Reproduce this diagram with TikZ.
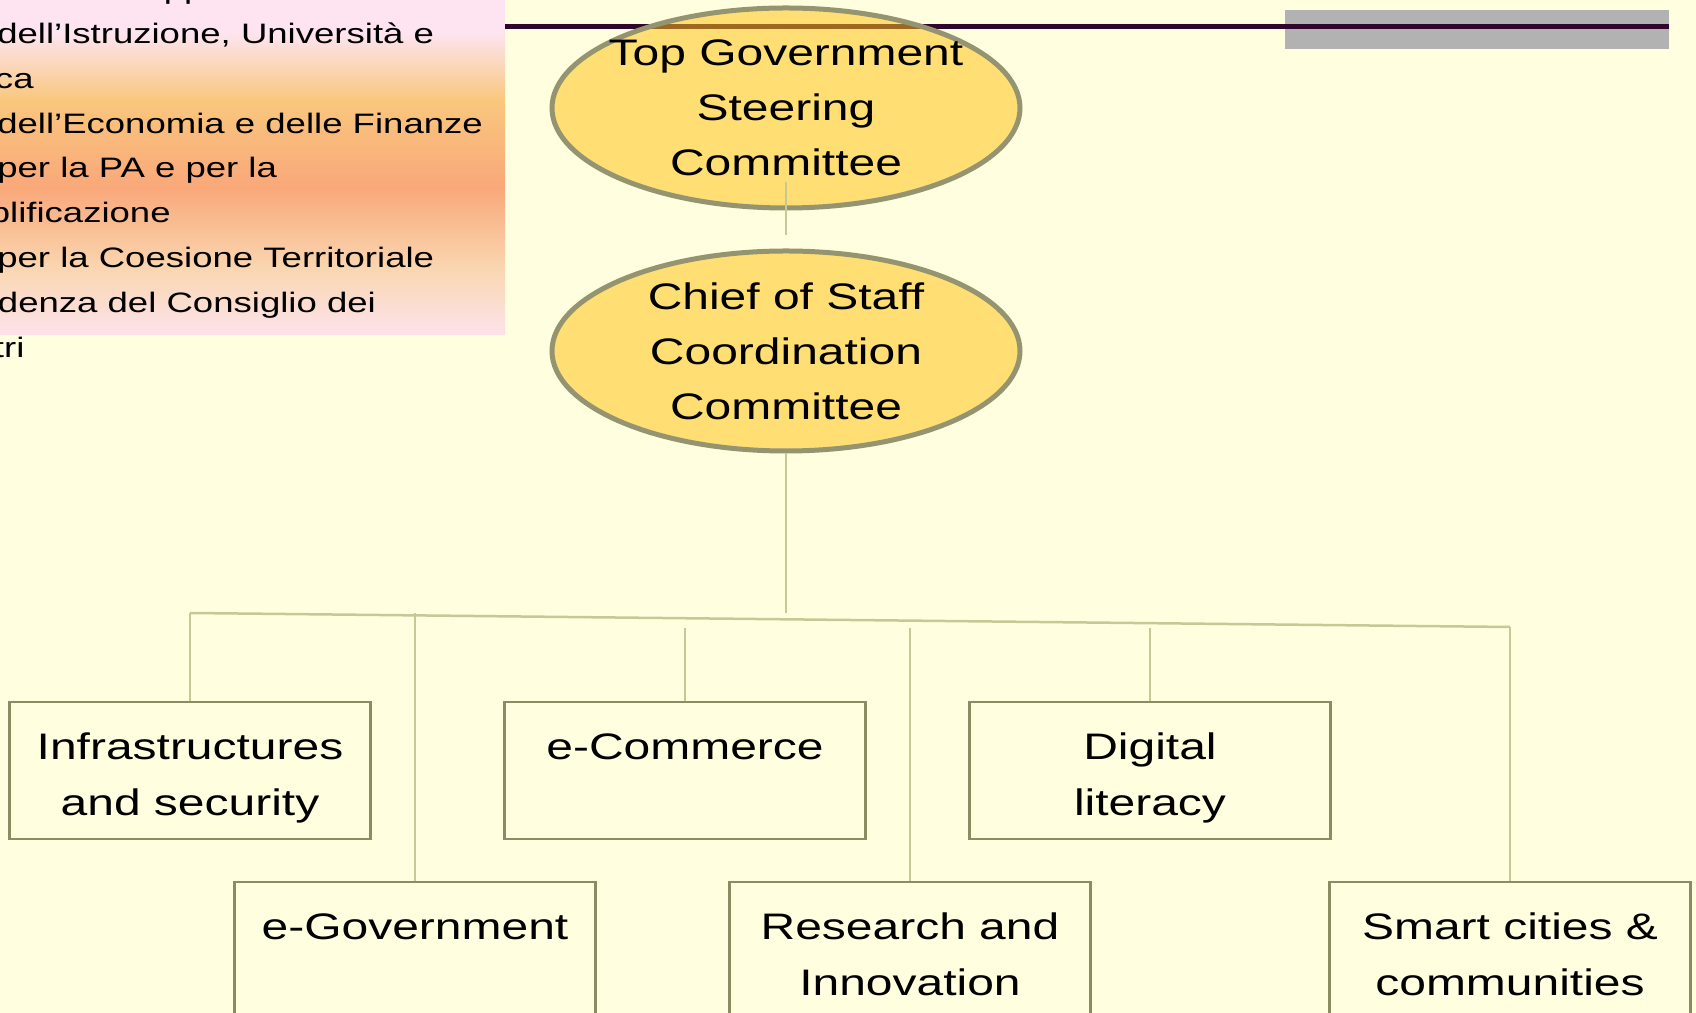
\documentclass[tikz,border=0pt]{standalone}
\usepackage{fontspec}
\setmainfont{Liberation Sans}[FakeStretch=1.30]
\usepackage{tikz}
\usetikzlibrary{shapes.geometric}

\definecolor{slideYellow}{RGB}{255,255,224}
\definecolor{titleRule}{RGB}{48,6,44}
\definecolor{barGray}{RGB}{178,178,178}
\definecolor{ellipseFill}{RGB}{255,193,20}
\definecolor{ellipseRim}{RGB}{148,148,112}
\definecolor{unitRim}{RGB}{140,140,100}
\definecolor{linkOlive}{RGB}{200,200,150}
\definecolor{pinkTop}{RGB}{253,228,240}
\definecolor{peachBand}{RGB}{249,199,125}
\definecolor{salmonBand}{RGB}{249,168,122}
\definecolor{lightPeach}{RGB}{250,214,176}
\definecolor{pinkBot}{RGB}{252,226,230}

\pgfdeclareverticalshading{ministryband}{100bp}{color(0bp)=(pinkBot); color(25bp)=(pinkBot); color(26bp)=(pinkBot); color(35bp)=(lightPeach); color(47bp)=(salmonBand); color(60bp)=(peachBand); color(70bp)=(pinkTop); color(75bp)=(pinkTop); color(100bp)=(pinkTop)}

% text at the top of a unit box
\newcommand{\unittext}[1]{\parbox[c][1.37cm][t]{3.61cm}{\centering\rule{0pt}{0.58cm}#1}}

\begin{document}
\begin{tikzpicture}[
        committee/.style={ellipse, draw=ellipseRim, line width=0.05cm, fill=ellipseFill, fill opacity=0.53, text opacity=1,
            minimum width=4.68cm, minimum height=2cm, inner xsep=-0.6cm, inner ysep=0pt, align=center,
            font=\fontsize{10.5}{15.7}\selectfont},
        unit/.style={draw=unitRim, line width=0.025cm, inner sep=0pt, font=\fontsize{10.5}{15.7}\selectfont},
        link/.style={draw=linkOlive, line width=0.025cm}
    ]
        \useasboundingbox (0,0) rectangle (16.96,10.13);
        \fill[slideYellow] (0,0) rectangle (16.96,10.13);
        
        % Ministries panel
        \shade[shading=ministryband] (0,6.78) rectangle (5.05,10.13);
        \node[anchor=north west, align=left, inner sep=0pt, font=\fontsize{8.0}{12.75}\selectfont] (ministries) at (-0.86,10.45)
            {\rule{0pt}{0.3cm}Min. dello Sviluppo Economico\\
             Min. dell’Istruzione, Università e\\
             \hspace*{-0.05cm}Ricerca\\
             Min. dell’Economia e delle Finanze\\
             Min. per la PA e per la\\
             Semplificazione\\
             Min. per la Coesione Territoriale\\
             Presidenza del Consiglio dei\\
             \hspace*{-0.06cm}Ministri};
        
        % Title rule
        \fill[barGray] (12.85,9.64) rectangle (16.69,10.03);
        \draw[titleRule, line width=0.05cm] (5.05,9.865) -- (16.69,9.865);
        
        % Committees
        \node[committee] (steering) at (7.86,9.05) {Top Government\\Steering\\Committee};
        \node[committee] (chief) at (7.86,6.62) {Chief of Staff\\Coordination\\Committee};
        
        % Working groups
        \node[unit] (infra) at (1.90,2.425) {\unittext{Infrastructures\\and security}};
        \node[unit] (ecommerce) at (6.85,2.425) {\unittext{e-Commerce}};
        \node[unit] (digital) at (11.50,2.425) {\unittext{Digital\\literacy}};
        \node[unit] (egov) at (4.15,0.625) {\unittext{e-Government}};
        \node[unit] (research) at (9.10,0.625) {\unittext{Research and\\Innovation}};
        \node[unit] (smart) at (15.10,0.625) {\unittext{Smart cities \&\\communities}};
        
        % Bus
        \coordinate (trunk) at (7.86,4.00);
        \coordinate (busL) at (1.90,4.00);
        \coordinate (busR) at (15.10,3.86);
        \coordinate (tapG) at (4.15,4.00);
        \coordinate (tapC) at (6.85,3.85);
        \coordinate (tapR) at (9.10,3.85);
        \coordinate (tapD) at (11.50,3.85);
        
        % Connections
        \draw[link] ([yshift=0.28cm]steering.south) -- ([yshift=0.13cm]chief.north);
        \draw[link] (chief.south) -- (trunk);
        \draw[link] (busL) -- (busR);
        
        \draw[link] (busL) -- (infra.north);
        \draw[link] (tapG) -- (egov.north);
        \draw[link] (tapC) -- (ecommerce.north);
        \draw[link] (tapR) -- (research.north);
        \draw[link] (tapD) -- (digital.north);
        \draw[link] (busR) -- (smart.north);
        
\end{tikzpicture}
\end{document}
